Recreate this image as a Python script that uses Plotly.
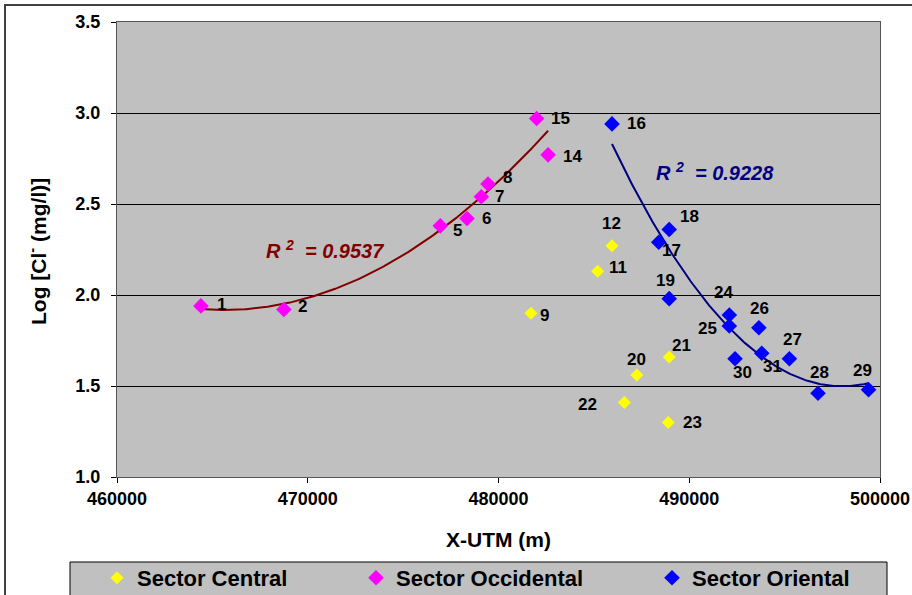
import numpy as np
import plotly.graph_objects as go

# ---------------- data ----------------
central_ids = [9, 11, 12, 20, 21, 22, 23]
central_x = [481700, 485200, 485950, 487250, 488950, 486600, 488900]
central_y = [1.90, 2.13, 2.27, 1.56, 1.66, 1.41, 1.30]

occ_ids = [1, 2, 5, 6, 7, 8, 14, 15]
occ_x = [464400, 468750, 476950, 478350, 479100, 479450, 482600, 482000]
occ_y = [1.94, 1.92, 2.38, 2.42, 2.54, 2.61, 2.77, 2.97]

ori_ids = [16, 17, 18, 19, 24, 25, 26, 27, 28, 29, 30, 31]
ori_x = [485950, 488400, 488950, 488950, 492100, 492100, 493650, 495250, 496750, 499400, 492400, 493800]
ori_y = [2.94, 2.29, 2.36, 1.98, 1.89, 1.83, 1.82, 1.65, 1.46, 1.48, 1.65, 1.68]

r2_occ_text = "0.9537"
r2_ori_text = "0.9228"

x_ticks = [460000, 470000, 480000, 490000, 500000]
y_ticks = [1.0, 1.5, 2.0, 2.5, 3.0, 3.5]

# label offsets (style: px, right / down)
label_off = {
    1: (21, -1), 2: (19, -3), 5: (17, 5), 6: (19, 0), 7: (18, 0), 8: (19, -6),
    14: (24, 2), 15: (24, 0),
    9: (14, 2), 11: (20, -4), 12: (-1, -22), 20: (0, -16), 21: (12, -11),
    22: (-37, 2), 23: (24, 0),
    16: (24, 0), 17: (13, 8), 18: (20, -13), 19: (-4, -18), 24: (-6, -23),
    25: (-22, 3), 26: (1, -19), 27: (3, -19), 28: (1, -21), 29: (-6, -19),
    30: (7, 14), 31: (11, 13),
}

FONT = "Arial, Liberation Sans, sans-serif"

fig = go.Figure()


def trend(xs, ys, deg=2, n=200):
    xs = np.asarray(xs, float)
    ys = np.asarray(ys, float)
    x0 = xs.mean()
    c = np.polyfit(xs - x0, ys, deg)
    xx = np.linspace(xs.min(), xs.max(), n)
    return xx, np.polyval(c, xx - x0)


tx, ty = trend(occ_x, occ_y)
fig.add_trace(go.Scatter(x=tx, y=ty, mode="lines", line=dict(color="#800000", width=2),
                         showlegend=False, hoverinfo="skip"))
tx, ty = trend(ori_x, ori_y)
fig.add_trace(go.Scatter(x=tx, y=ty, mode="lines", line=dict(color="#000080", width=2),
                         showlegend=False, hoverinfo="skip"))

fig.add_trace(go.Scatter(x=central_x, y=central_y, mode="markers", name="Sector Central",
                         marker=dict(symbol="diamond", size=10, color="#FFFF00"),
                         legend="legend"))
fig.add_trace(go.Scatter(x=occ_x, y=occ_y, mode="markers", name="Sector Occidental",
                         marker=dict(symbol="diamond", size=12, color="#FF00FF"),
                         legend="legend2"))
fig.add_trace(go.Scatter(x=ori_x, y=ori_y, mode="markers", name="Sector Oriental",
                         marker=dict(symbol="diamond", size=12, color="#0000FF"),
                         legend="legend3"))

W, H = 912, 595
L, R, T, B = 117, 32, 22, 118
pw, ph = W - L - R, H - T - B


def px_x(p):
    return (p - L) / pw


def px_y(p):
    return (H - B - p) / ph


annotations = []
for ids, xs, ys in [(central_ids, central_x, central_y), (occ_ids, occ_x, occ_y), (ori_ids, ori_x, ori_y)]:
    for i, x, y in zip(ids, xs, ys):
        dx, dy = label_off[i]
        annotations.append(dict(x=x, y=y, xref="x", yref="y", text=str(i), showarrow=False,
                                xshift=dx, yshift=-dy,
                                font=dict(family=FONT, size=17, color="black", weight="bold")))

annotations.append(dict(x=470900, y=2.248, xref="x", yref="y", showarrow=False,
                        text="<i>R <sup>2</sup>  = " + r2_occ_text + "</i>",
                        font=dict(family=FONT, size=20, color="#800000", weight="bold")))
annotations.append(dict(x=491350, y=2.678, xref="x", yref="y", showarrow=False,
                        text="<i>R <sup>2</sup>  = " + r2_ori_text + "</i>",
                        font=dict(family=FONT, size=20, color="#000080", weight="bold")))
# y-axis title placed explicitly
annotations.append(dict(x=px_x(37), y=px_y(252), xref="paper", yref="paper", showarrow=False,
                        textangle=-90, xanchor="center", yanchor="middle",
                        text="Log [Cl<sup>-</sup> (mg/l)]",
                        font=dict(family=FONT, size=21, color="black", weight="bold")))

shapes = [
    # outer chart border
    dict(type="rect", xref="paper", yref="paper", x0=px_x(5), x1=px_x(930), y0=px_y(5), y1=px_y(610),
         line=dict(color="#404040", width=2), fillcolor="rgba(0,0,0,0)", layer="below"),
    # legend box
    dict(type="rect", xref="paper", yref="paper", x0=px_x(70), x1=px_x(887), y0=px_y(562), y1=px_y(605),
         line=dict(color="black", width=1), fillcolor="#C0C0C0", layer="below"),
]

leg_common = dict(orientation="h", yanchor="middle", y=px_y(578), xanchor="left",
                  bgcolor="rgba(0,0,0,0)", borderwidth=0,
                  font=dict(family=FONT, size=22, color="black", weight="bold"),
                  itemclick=False, itemdoubleclick=False)

fig.update_layout(
    width=W, height=H,
    margin=dict(l=L, r=R, t=T, b=B, autoexpand=False),
    paper_bgcolor="white",
    plot_bgcolor="#C0C0C0",
    showlegend=True,
    legend=dict(x=px_x(97), **leg_common),
    legend2=dict(x=px_x(356), **leg_common),
    legend3=dict(x=px_x(652), **leg_common),
    annotations=annotations,
    shapes=shapes,
    xaxis=dict(range=[460000, 500000], tickvals=x_ticks, ticktext=[str(v) for v in x_ticks],
               showgrid=False, zeroline=False, automargin=False,
               showline=True, linecolor="#555555", linewidth=1, mirror=True,
               ticks="outside", ticklen=5, tickcolor="black",
               tickfont=dict(family=FONT, size=18, color="black", weight="bold"),
               title=dict(text="X-UTM (m)", standoff=24,
                          font=dict(family=FONT, size=21, color="black", weight="bold"))),
    yaxis=dict(range=[1.0, 3.5], tickvals=y_ticks, ticktext=["%.1f" % v for v in y_ticks],
               showgrid=True, gridcolor="black", gridwidth=1, zeroline=False, automargin=False,
               showline=True, linecolor="#555555", linewidth=1, mirror=True,
               ticks="outside", ticklen=5, tickcolor="black", ticklabelstandoff=7,
               tickfont=dict(family=FONT, size=18, color="black", weight="bold")),
)

fig.write_html("out.html", config={"displayModeBar": False},
               post_script="document.body.style.margin='0px';")
